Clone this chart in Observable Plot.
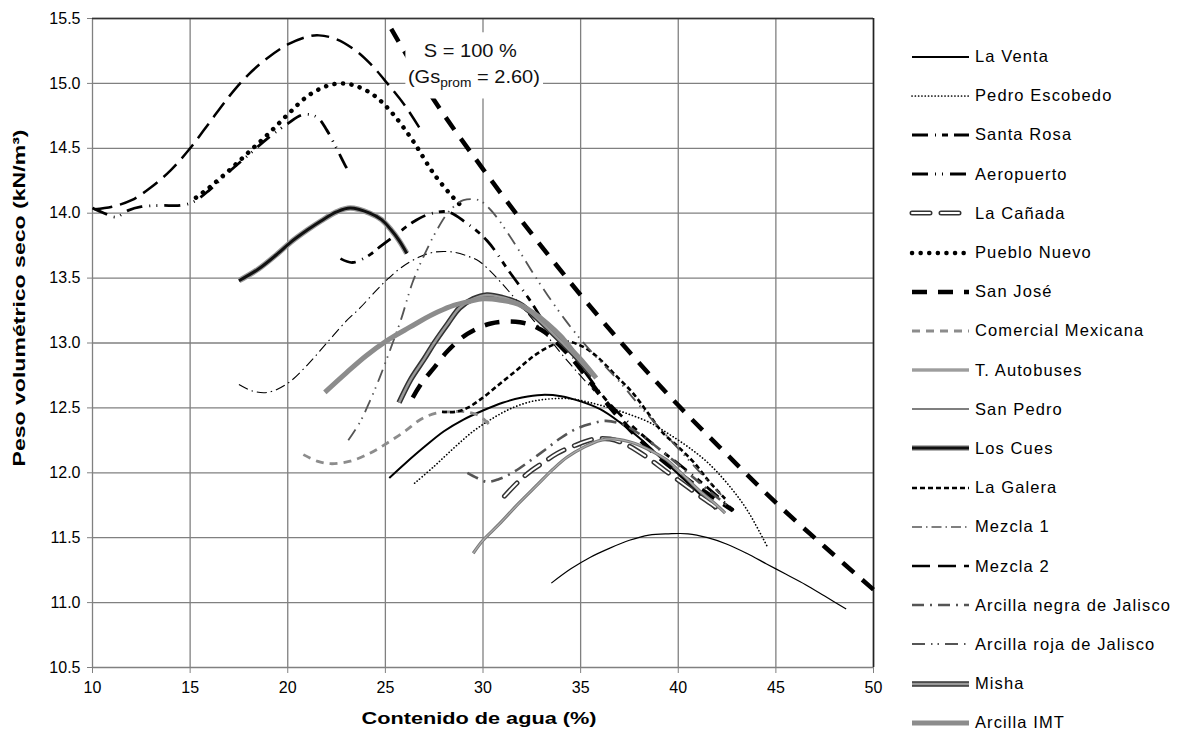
<!DOCTYPE html>
<html><head><meta charset="utf-8">
<script src="https://cdn.jsdelivr.net/npm/d3@7"></script>
<script src="https://cdn.jsdelivr.net/npm/@observablehq/plot@0.6"></script>
<style>
body{margin:0;background:#fff;font-family:"Liberation Sans",Arial,sans-serif;}
#wrap{position:relative;width:1180px;height:744px;overflow:hidden;background:#fff;}
#chart{position:absolute;left:0;top:0;}
#legend{position:absolute;left:905px;top:37px;}
.item{height:39.2px;display:flex;align-items:center;font-size:16.5px;letter-spacing:1.1px;color:#000;white-space:nowrap;}
.item svg{margin-right:2px;flex:none;}
</style></head><body><div id="wrap"><div id="chart"></div><div id="legend"></div></div>
<script>
// ---- axis ticks & labels ----
const xTicks = [10, 15, 20, 25, 30, 35, 40, 45, 50];
const yTicks = [10.5, 11, 11.5, 12, 12.5, 13, 13.5, 14, 14.5, 15, 15.5];
const xLabel = "Contenido de agua (%)";
const yLabel = "Peso volumétrico seco (kN/m³)";
const noteLine1 = "S = 100 %";
const noteGs = "(Gs", noteSub = "prom", noteRest = " = 2.60)";

// ---- series names (legend order) ----
const names = ["La Venta", "Pedro Escobedo", "Santa Rosa", "Aeropuerto", "La Cañada", "Pueblo Nuevo",
  "San José", "Comercial Mexicana", "T. Autobuses", "San Pedro", "Los Cues", "La Galera",
  "Mezcla 1", "Mezcla 2", "Arcilla negra de Jalisco", "Arcilla roja de Jalisco", "Misha", "Arcilla IMT"];

// ---- series values [water content %, dry unit weight kN/m3] ----
const laVenta = [[25.2,11.96],[26,12.07],[27,12.2],[28,12.32],[29,12.41],[30,12.48],[31,12.54],[32,12.58],[33,12.6],[34,12.59],[35,12.55],[36,12.49],[37,12.39],[38,12.27],[39,12.13],[40,11.99],[41,11.85],[41.9,11.72]];
const pedroEscobedo = [[26.5,11.92],[27.5,12.05],[28.5,12.19],[29.5,12.32],[30.5,12.42],[31.5,12.5],[32.5,12.55],[33.5,12.57],[34.5,12.57],[35.5,12.54],[36.5,12.5],[37.5,12.45],[38.5,12.39],[39.5,12.3],[40.5,12.2],[41.5,12.08],[42.5,11.92],[43.5,11.72],[44.6,11.42]];
const santaRosa = [[22.7,13.65],[23.3,13.62],[24,13.66],[24.8,13.75],[25.6,13.84],[26.4,13.93],[27.2,13.99],[28.2,14.01],[29.1,13.93],[30.2,13.79],[31.3,13.56],[32.4,13.33],[33.4,13.1],[34.4,12.93],[35.3,12.76],[36.2,12.58],[37.5,12.38],[38.8,12.21],[40,12.07],[41,11.95],[42,11.82],[42.9,11.7]];
const aeropuerto = [[10,14.04],[10.6,14.0],[11.2,13.97],[11.8,14.02],[12.5,14.05],[13.5,14.06],[14.5,14.06],[15.2,14.09],[16,14.18],[17,14.32],[18,14.45],[19,14.58],[20,14.69],[20.8,14.76],[21.5,14.74],[22,14.64],[22.5,14.5],[22.9,14.38],[23.2,14.3]];
const laCanada = [[31.1,11.82],[31.8,11.93],[32.5,12.02],[33.1,12.08],[33.8,12.15],[34.7,12.21],[35.7,12.26],[36.5,12.26],[37.3,12.22],[38.3,12.13],[39.3,12.02],[40.3,11.91],[41.3,11.8],[42.3,11.7]];
const puebloNuevo = [[15.3,14.12],[16,14.2],[17,14.33],[18,14.47],[19,14.61],[20,14.76],[21,14.9],[22,14.98],[22.8,15.0],[23.5,14.98],[24.4,14.91],[25.3,14.78],[26.4,14.56],[27.5,14.3],[28.6,14.1],[29.0,14.04]];
const sanJose = [[26.4,12.58],[26.9,12.7],[27.5,12.81],[28.2,12.94],[29.2,13.07],[30.4,13.15],[31.9,13.16],[33.0,13.1],[34,12.97],[35,12.8],[36,12.6],[37,12.42],[38,12.26],[39,12.12],[40,12.0],[41,11.89],[42,11.79],[42.8,11.71]];
const comercialMexicana = [[20.8,12.14],[21.5,12.09],[22.2,12.07],[23.2,12.09],[24.2,12.15],[25.1,12.23],[26,12.32],[26.8,12.41],[27.6,12.46],[28.3,12.47],[29.1,12.47],[29.8,12.44],[30.4,12.36]];
const tAutobuses = [[29.5,11.38],[30,11.48],[30.8,11.6],[31.8,11.76],[32.8,11.91],[33.6,12.03],[34.3,12.12],[35.2,12.2],[36,12.25],[36.8,12.26],[37.7,12.23],[38.6,12.17],[39.4,12.1],[40.2,11.99],[41.1,11.86],[41.9,11.76],[42.4,11.69]];
const sanPedro = [[33.5,11.15],[34.5,11.26],[35.5,11.35],[36.5,11.42],[37.5,11.48],[38.5,11.52],[39.5,11.53],[40.5,11.53],[41.5,11.5],[42.5,11.45],[43.5,11.38],[44.5,11.3],[45.5,11.22],[46.5,11.14],[47.5,11.05],[48.6,10.95]];
const losCues = [[17.5,13.48],[18.5,13.57],[19.5,13.69],[20.1,13.77],[21,13.87],[21.7,13.94],[22.5,14.01],[23.2,14.04],[24.2,14.0],[24.8,13.95],[25.3,13.87],[25.7,13.79],[26.1,13.69]];
const laGalera = [[27.9,12.47],[28.6,12.47],[29.2,12.5],[30,12.58],[30.9,12.69],[31.8,12.8],[32.6,12.9],[33.5,12.98],[34.3,13.01],[35,12.98],[35.8,12.9],[36.8,12.75],[37.7,12.61],[38.5,12.45],[39.2,12.31],[40,12.2],[40.8,12.08],[41.6,11.93],[42.4,11.8]];
const mezcla1 = [[17.5,12.68],[18.2,12.63],[19,12.62],[20,12.69],[21,12.83],[22,13.0],[23,13.17],[23.7,13.27],[24.5,13.4],[25.1,13.49],[25.8,13.58],[26.7,13.66],[27.5,13.7],[28.5,13.7],[29.2,13.67],[29.8,13.63],[30.4,13.55],[30.9,13.47],[31.6,13.35],[32.5,13.19],[33.3,13.05],[34,12.92],[34.8,12.78],[35.7,12.63]];
const mezcla2 = [[10.1,14.03],[11,14.05],[12,14.1],[13,14.2],[14,14.33],[15,14.5],[16,14.7],[17,14.9],[18,15.07],[19,15.2],[20,15.3],[21,15.36],[21.6,15.37],[22.5,15.34],[23.5,15.25],[24.3,15.14],[25.1,15.0],[26,14.83],[26.9,14.62]];
const arcillaNegra = [[29.2,12.0],[29.7,11.96],[30.2,11.93],[30.8,11.95],[31.5,12.0],[32.3,12.08],[33.2,12.18],[34,12.27],[34.8,12.34],[35.6,12.38],[36.3,12.4],[37.2,12.37],[38.2,12.28],[39.3,12.15],[40.5,12.0],[41.5,11.87],[42.5,11.75]];
const arcillaRoja = [[23.1,12.25],[23.7,12.39],[24.2,12.55],[24.7,12.73],[25.3,12.97],[25.8,13.18],[26.4,13.47],[27,13.68],[27.6,13.86],[28.3,14.02],[29,14.1],[29.8,14.1],[30.3,14.04],[30.8,13.95],[31.3,13.84],[31.9,13.7],[32.6,13.53],[33.3,13.37],[34.2,13.18],[35.1,13.01],[36,12.86],[37,12.7],[38,12.52],[39.2,12.32],[40.4,12.12],[41.5,11.94],[42.2,11.83]];
const misha = [[25.7,12.54],[26.3,12.72],[27,12.88],[27.5,13.0],[28.2,13.15],[28.8,13.27],[29.5,13.34],[30.2,13.37],[31,13.35],[31.9,13.3],[32.7,13.2],[33.4,13.1],[34,13.01],[34.6,12.92],[35.2,12.82],[35.6,12.75]];
const arcillaIMT = [[21.9,12.62],[23,12.77],[24,12.9],[25.1,13.02],[26,13.1],[26.8,13.17],[27.7,13.24],[28.5,13.29],[29.3,13.32],[30,13.34],[30.9,13.33],[31.8,13.3],[32.6,13.23],[33.3,13.15],[34,13.05],[34.6,12.94],[35.2,12.84],[35.8,12.73]];
// zero-air-voids line S = 100 %
const saturation = [[25.3,15.42],[27.5,14.87],[30,14.34],[32.5,13.84],[35,13.37],[37.5,12.93],[40,12.52],[42.5,12.14],[45,11.77],[47.5,11.43],[50,11.1]];

const seriesData = [laVenta, pedroEscobedo, santaRosa, aeropuerto, laCanada, puebloNuevo, sanJose,
  comercialMexicana, tAutobuses, sanPedro, losCues, laGalera, mezcla1, mezcla2, arcillaNegra,
  arcillaRoja, misha, arcillaIMT];

// ---- line styles (one list of stroke layers per series) ----
const styles = [
  [{s:"#000", w:2}],
  [{s:"#000", w:1.7, d:"0.1,3.2", c:"round"}],
  [{s:"#000", w:2.8, d:"16,7,1,6,6,6"}],
  [{s:"#000", w:2.8, d:"16,7,1,6,1,7"}],
  [{s:"#333", w:5, d:"18,11", c:"round"}, {s:"#fff", w:2, d:"18,11", c:"round"}],
  [{s:"#000", w:4.5, d:"0.1,8.5", c:"round"}],
  [{s:"#000", w:4.5, d:"15,11"}],
  [{s:"#8c8c8c", w:2.8, d:"8,6"}],
  [{s:"#777", w:3.2}, {s:"#aaa", w:1.3}],
  [{s:"#000", w:1.2}],
  [{s:"#999", w:5.5}, {s:"#111", w:3}],
  [{s:"#000", w:2.6, d:"5,3"}],
  [{s:"#000", w:1.1, d:"10,4,1.5,4"}],
  [{s:"#000", w:2.5, d:"18,8"}],
  [{s:"#555", w:2.6, d:"12,6,2,6"}],
  [{s:"#555", w:1.8, d:"13,6,1.5,5,1.5,6"}],
  [{s:"#333", w:5.5}, {s:"#999", w:2.5}],
  [{s:"#8c8c8c", w:5}]
];
const satStyle = {s:"#000", w:4.5, d:"15,11"};

// ---- annotation placement (data units) ----
const noteBox = [{x1: 26.05, x2: 33.1, y1: 14.88, y2: 15.39}];

const font = "Liberation Sans, Arial, sans-serif";
const lineMark = (data, L) => Plot.line(data, {
  x: d => d[0], y: d => d[1], stroke: L.s, strokeWidth: L.w,
  strokeDasharray: L.d || null, strokeLinecap: L.c || "butt", curve: "catmull-rom"
});

const marks = [
  Plot.gridX(xTicks, {stroke: "#808080", strokeOpacity: 1, strokeWidth: 1.3}),
  Plot.gridY(yTicks, {stroke: "#808080", strokeOpacity: 1, strokeWidth: 1.3}),
  Plot.ruleY([15.5], {stroke: "#333", strokeWidth: 1.6}),
  Plot.ruleX([50], {stroke: "#222", strokeWidth: 1.6}),
  Plot.axisX(xTicks, {tickSize: 6, tickPadding: 8, fontSize: 16, label: null, tickFormat: d => String(d), stroke: "#808080"}),
  Plot.axisY(yTicks, {tickSize: 5, tickPadding: 7, fontSize: 16, label: null, tickFormat: d3.format(".1f"), stroke: "#808080"}),
  lineMark(saturation, satStyle)
];
seriesData.forEach((data, i) => styles[i].forEach(L => marks.push(lineMark(data, L))));
marks.push(
  Plot.rect(noteBox, {x1: "x1", x2: "x2", y1: "y1", y2: "y2", fill: "white"}),
  Plot.text([noteLine1], {x: 29.35, y: 15.25, text: d => d, fontSize: 18, fill: "#111"}),
  Plot.text([xLabel], {frameAnchor: "bottom", dy: 56, dx: -4, text: d => d, fontSize: 17, fontWeight: "bold"}),
  Plot.text([yLabel], {frameAnchor: "left", textAnchor: "middle", rotate: -90, dx: -73, dy: -45, text: d => d, fontSize: 17, fontWeight: "bold"})
);

const chart = Plot.plot({
  width: 900, height: 744,
  marginLeft: 92, marginRight: 27, marginTop: 18, marginBottom: 77,
  x: {domain: [10, 50]},
  y: {domain: [10.5, 15.5]},
  style: {fontFamily: font, fontSize: "16px", color: "#000", background: "transparent"},
  marks
});

// stretch texts to the widths seen in the reference
const fit = (str, len) => d3.select(chart).selectAll("text")
  .filter(function() { return this.textContent === str; })
  .attr("textLength", len).attr("lengthAdjust", "spacingAndGlyphs");
fit(xLabel, 235);
fit(yLabel, 337);
fit(noteLine1, 93);

// subscripted annotation placed through the chart's scales
const sx = chart.scale("x"), sy = chart.scale("y");
const t = d3.select(chart).append("text")
  .attr("x", sx.apply(29.56)).attr("y", sy.apply(15.0))
  .attr("text-anchor", "middle").attr("font-size", 17.5).attr("fill", "#111")
  .attr("textLength", 132).attr("lengthAdjust", "spacingAndGlyphs");
t.append("tspan").text(noteGs);
t.append("tspan").attr("font-size", 12).attr("dy", 4).text(noteSub);
t.append("tspan").attr("dy", -4).text(noteRest);

document.getElementById("chart").appendChild(chart);

// ---- legend ----
const legend = d3.select("#legend");
names.forEach((n, i) => {
  const item = legend.append("div").attr("class", "item");
  const svg = item.append("svg").attr("width", 68).attr("height", 12);
  styles[i].forEach(L => {
    svg.append("line").attr("x1", 7).attr("x2", 64).attr("y1", 6).attr("y2", 6)
      .attr("stroke", L.s).attr("stroke-width", L.w)
      .attr("stroke-dasharray", L.d || null).attr("stroke-linecap", L.c || "butt");
  });
  item.append("span").text(n);
});
</script></body></html>
